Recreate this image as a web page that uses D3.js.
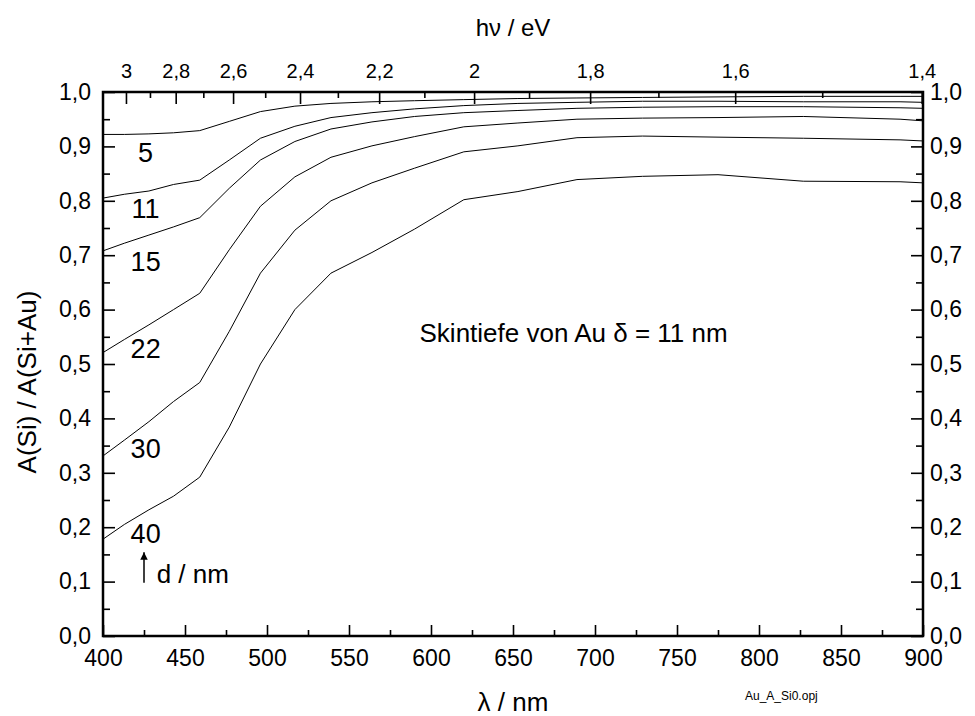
<!DOCTYPE html>
<html>
<head>
<meta charset="utf-8">
<script src="https://cdn.jsdelivr.net/npm/d3@7"></script>
<style>
  body { margin: 0; background: #fff; }
  svg { font-family: "Liberation Sans", Arial, sans-serif; }
  .axis path { display: none; }
  .axis line { stroke: #000; stroke-width: 1.6; }
  .axis text { fill: #000; }
  .curve { fill: none; stroke: #000; stroke-width: 1; }
</style>
</head>
<body>
<script>
// wavelength grid (nm) and A(Si)/A(Si+Au) for each Au thickness d
const wavelength = [400, 413, 428, 443, 459, 477, 496, 517, 539, 564, 590, 620, 653, 689, 729, 775, 827, 886, 900];
const d5  = [0.922, 0.922, 0.923, 0.925, 0.929, 0.946, 0.964, 0.974, 0.979, 0.982, 0.984, 0.986, 0.988, 0.989, 0.990, 0.991, 0.992, 0.992, 0.992];
const d11 = [0.805, 0.812, 0.818, 0.830, 0.838, 0.875, 0.915, 0.937, 0.953, 0.962, 0.969, 0.975, 0.979, 0.981, 0.983, 0.983, 0.982, 0.982, 0.981];
const d15 = [0.708, 0.722, 0.737, 0.752, 0.769, 0.823, 0.875, 0.909, 0.932, 0.945, 0.955, 0.962, 0.966, 0.970, 0.972, 0.973, 0.973, 0.971, 0.970];
const d22 = [0.521, 0.545, 0.572, 0.600, 0.630, 0.710, 0.790, 0.844, 0.880, 0.901, 0.918, 0.936, 0.943, 0.950, 0.952, 0.953, 0.955, 0.950, 0.947];
const d30 = [0.331, 0.360, 0.394, 0.431, 0.466, 0.560, 0.667, 0.746, 0.800, 0.833, 0.860, 0.890, 0.901, 0.916, 0.919, 0.917, 0.915, 0.912, 0.910];
const d40 = [0.178, 0.205, 0.232, 0.257, 0.292, 0.384, 0.500, 0.600, 0.667, 0.705, 0.748, 0.802, 0.817, 0.839, 0.845, 0.848, 0.836, 0.835, 0.833];
const thickness = ["5", "11", "15", "22", "30", "40"];
const labelValue = [0.871, 0.768, 0.671, 0.511, 0.327, 0.171];

const xTicks = [400, 450, 500, 550, 600, 650, 700, 750, 800, 850, 900];
const yTicks = [0, 0.1, 0.2, 0.3, 0.4, 0.5, 0.6, 0.7, 0.8, 0.9, 1.0];
const energyTicks = [3, 2.8, 2.6, 2.4, 2.2, 2, 1.8, 1.6, 1.4];
const energyMinor = [2.9, 2.7, 2.5, 2.3, 2.1, 1.9, 1.7, 1.5];

const width = 975, height = 716;
const plotLeft = 103, plotRight = 923, plotTop = 92, plotBottom = 636;

const svg = d3.select('body').append('svg')
    .attr('width', width).attr('height', height);

const x = d3.scaleLinear().domain([400, 900]).range([plotLeft, plotRight]);
const y = d3.scaleLinear().domain([0, 1]).range([plotBottom, plotTop]);
// top energy axis: linear in 1/E, as on the original plot
const xE = d3.scaleLinear().domain([1 / 3, 1 / 1.4]).range([x(414), x(899.2)]);

const comma = (v, f) => d3.format(f)(v).replace('.', ',');

// curves
const series = [d5, d11, d15, d22, d30, d40];
const line = d3.line().x((d, i) => x(wavelength[i])).y(d => y(d));
svg.append('g').selectAll('path').data(series).enter()
    .append('path').attr('class', 'curve').attr('d', line);

// axes (ticks inward)
const minorX = d3.range(425, 900, 50);
const minorY = d3.range(0.05, 1, 0.1);

svg.append('g').attr('class', 'axis').attr('transform', `translate(0,${plotBottom})`)
    .call(d3.axisBottom(x).tickValues(xTicks).tickSize(-11).tickSizeOuter(0).tickPadding(14)
        .tickFormat(d3.format('d')))
    .call(g => g.selectAll('text').attr('font-size', 23));
svg.append('g').attr('class', 'axis').attr('transform', `translate(0,${plotBottom})`)
    .call(d3.axisBottom(x).tickValues(minorX).tickSize(-6).tickSizeOuter(0).tickFormat(''));

svg.append('g').attr('class', 'axis').attr('transform', `translate(${plotLeft},0)`)
    .call(d3.axisLeft(y).tickValues(yTicks).tickSize(-12).tickSizeOuter(0).tickPadding(12)
        .tickFormat(v => comma(v, '.1f')))
    .call(g => g.selectAll('text').attr('font-size', 23));
svg.append('g').attr('class', 'axis').attr('transform', `translate(${plotLeft},0)`)
    .call(d3.axisLeft(y).tickValues(minorY).tickSize(-7).tickSizeOuter(0).tickFormat(''));

svg.append('g').attr('class', 'axis').attr('transform', `translate(${plotRight},0)`)
    .call(d3.axisRight(y).tickValues(yTicks).tickSize(-12).tickSizeOuter(0).tickPadding(7)
        .tickFormat(v => comma(v, '.1f')))
    .call(g => g.selectAll('text').attr('font-size', 23));
svg.append('g').attr('class', 'axis').attr('transform', `translate(${plotRight},0)`)
    .call(d3.axisRight(y).tickValues(minorY).tickSize(-7).tickSizeOuter(0).tickFormat(''));

svg.append('g').attr('class', 'axis').attr('transform', `translate(0,${plotTop})`)
    .call(d3.axisTop(xE).tickValues(energyTicks.map(e => 1 / e)).tickSize(-12).tickSizeOuter(0).tickPadding(14)
        .tickFormat(v => comma(Math.round(10 / v) / 10, '~g')))
    .call(g => g.selectAll('text').attr('font-size', 20));
svg.append('g').attr('class', 'axis').attr('transform', `translate(0,${plotTop})`)
    .call(d3.axisTop(xE).tickValues(energyMinor.map(e => 1 / e)).tickSize(-6).tickSizeOuter(0).tickFormat(''));

// frame
svg.append('rect')
    .attr('x', plotLeft).attr('y', plotTop)
    .attr('width', plotRight - plotLeft).attr('height', plotBottom - plotTop)
    .attr('fill', 'none').attr('stroke', '#000').attr('stroke-width', 2.5);

// curve labels
svg.append('g').selectAll('text').data(thickness).enter()
    .append('text')
    .attr('x', x(426)).attr('y', (d, i) => y(labelValue[i]))
    .attr('text-anchor', 'middle').attr('font-size', 27)
    .text(d => d);

// arrow with d / nm
svg.append('defs').append('marker')
    .attr('id', 'head').attr('viewBox', '0 0 10 10').attr('refX', 10).attr('refY', 5)
    .attr('markerWidth', 5).attr('markerHeight', 5).attr('orient', 'auto')
    .append('path').attr('d', 'M0,0L10,5L0,10z').attr('fill', '#000');
svg.append('line')
    .attr('x1', x(425)).attr('x2', x(425))
    .attr('y1', y(0.098)).attr('y2', y(0.154))
    .attr('stroke', '#000').attr('stroke-width', 1.5).attr('marker-end', 'url(#head)');
svg.append('text').attr('x', x(432.7)).attr('y', y(0.098))
    .attr('font-size', 26).text('d / nm');

svg.append('text').attr('x', x(593)).attr('y', y(0.541))
    .attr('font-size', 26).text('Skintiefe von Au δ = 11 nm');

// axis titles
svg.append('text').attr('x', (plotLeft + plotRight) / 2).attr('y', 711)
    .attr('text-anchor', 'middle').attr('font-size', 26).text('λ / nm');
svg.append('text').attr('x', (plotLeft + plotRight) / 2).attr('y', 36)
    .attr('text-anchor', 'middle').attr('font-size', 24).text('hν / eV');
svg.append('text').attr('transform', 'translate(36,382) rotate(-90)')
    .attr('text-anchor', 'middle').attr('font-size', 26).text('A(Si) / A(Si+Au)');
svg.append('text').attr('x', 745).attr('y', 700)
    .attr('font-size', 12).text('Au_A_Si0.opj');
</script>
</body>
</html>
